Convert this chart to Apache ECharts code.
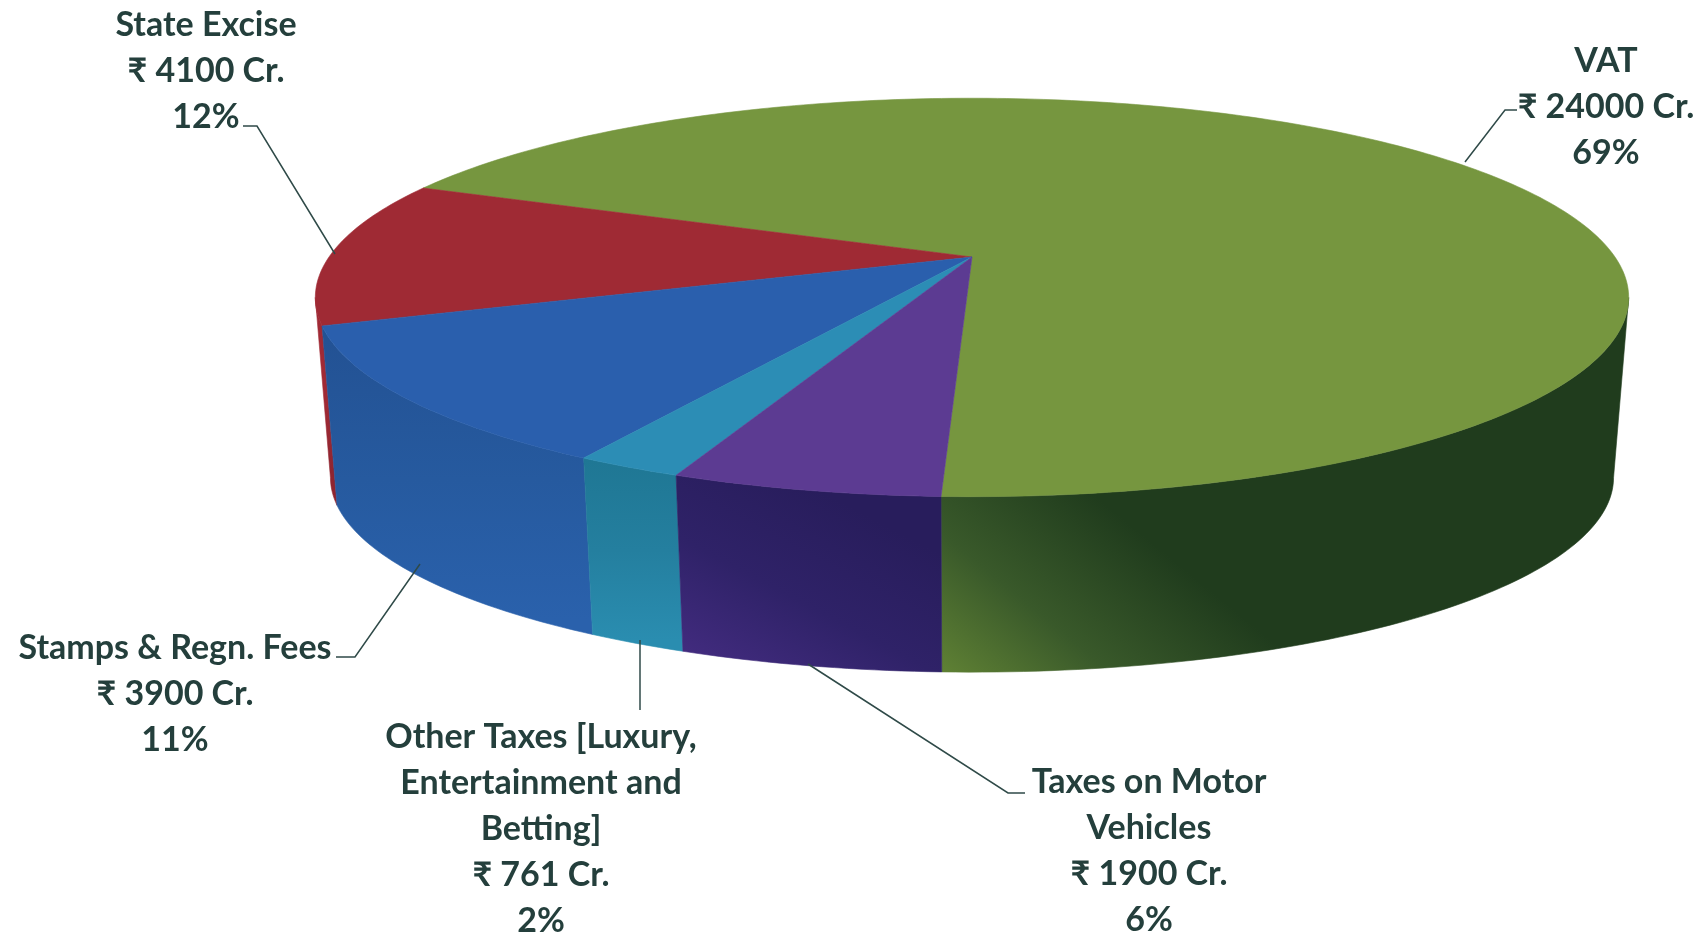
<!DOCTYPE html>
<html>
<head>
<meta charset="utf-8">
<title>Tax revenue</title>
<script src="https://cdn.jsdelivr.net/npm/echarts@6/dist/echarts.min.js"></script>
<style>
  html, body { margin: 0; padding: 0; background: #fff; }
  #chart { width: 1700px; height: 936px; }
</style>
</head>
<body>
<div id="chart"></div>
<script>
// data, clockwise from the VAT slice
const categories = ["VAT", "State Excise", "Stamps & Regn. Fees", "Other Taxes [Luxury,\nEntertainment and\nBetting]", "Taxes on Motor\nVehicles"];
const values = [24000, 4100, 3900, 761, 1900];
const percents = [69, 12, 11, 2, 6];

// styles
const topColors = ["#76963f", "#9f2a34", "#2a5fad", "#2c8db5", "#5c3b92"];
const wallFills = [
  { x: 940, y: 695, x2: 1100, y2: 500, stops: ["#668836", "#39592a", "#203c1d"] },
  { x: 0, y: 330, x2: 0, y2: 470, stops: ["#a02a35", "#a02a35", "#8f2530"] },
  { x: 0, y: 620, x2: 0, y2: 340, stops: ["#2a61ac", "#265a9f", "#235294"] },
  { x: 0, y: 640, x2: 0, y2: 460, stops: ["#2a8db0", "#247f9f", "#1f7794"] },
  { x: 700, y: 670, x2: 800, y2: 480, stops: ["#432c80", "#2f2268", "#281d5c"] },
];
const textColor = "#243f3c";
const leaderColor = "#2f4a48";

// label layout, one entry per slice
const labelCenters = [
  { x: 1606, y: 61 },
  { x: 206, y: 25 },
  { x: 175, y: 648 },
  { x: 541, y: 737 },
  { x: 1149, y: 782 },
];
const leaders = [
  [[1517, 110], [1505, 110], [1465, 162]],
  [[243, 126], [257, 126], [335, 254]],
  [[336, 657], [355, 657], [420, 564]],
  [[640, 640], [640, 710]],
  [[1025, 793], [1008, 793], [808, 664]],
];
const lineHeight = 46;

// the disc is a circle seen in perspective
const disc = { cx: 972, cy: 257, a: 643, b: 191, p: 0.203, start: 362.2 };
const base = { cy: 438, scale: 0.977 };
// the rim turns away from the viewer past this angle either side of the near point
const rimLimit = (Math.acos(disc.p) * 180) / Math.PI;

const total = values.reduce((sum, v) => sum + v, 0);

function project(deg, isBase) {
  const r = (deg * Math.PI) / 180;
  const u = -Math.sin(r);
  const v = Math.cos(r);
  const w = 1 - disc.p * v;
  const s = isBase ? base.scale : 1;
  const cy = isBase ? base.cy : disc.cy;
  return [disc.cx + (s * disc.a * u) / w, cy + (s * disc.b * v) / w];
}

function sliceRange(index) {
  let from = disc.start;
  for (let i = 0; i < index; i++) {
    from -= (values[i] / total) * 360;
  }
  return [from, from - (values[index] / total) * 360];
}

function arc(from, to, isBase) {
  const steps = Math.max(2, Math.ceil(Math.abs(from - to)));
  const points = [];
  for (let i = 0; i <= steps; i++) {
    points.push(project(from + ((to - from) * i) / steps, isBase));
  }
  return points;
}

// part of a slice's rim that faces the viewer, null for a slice at the back
function frontRange(index) {
  const [from, to] = sliceRange(index);
  for (const centre of [0, 360]) {
    const hi = Math.min(from, centre + rimLimit);
    const lo = Math.max(to, centre - rimLimit);
    if (hi > lo) {
      return [hi, lo];
    }
  }
  return null;
}

function wallFill(index) {
  const f = wallFills[index];
  return {
    type: "linear",
    global: true,
    x: f.x,
    y: f.y,
    x2: f.x2,
    y2: f.y2,
    colorStops: [
      { offset: 0, color: f.stops[0] },
      { offset: 0.5, color: f.stops[1] },
      { offset: 1, color: f.stops[2] },
    ],
  };
}

const seriesData = values.map((v) => [v]);
const myChart = echarts.init(document.getElementById("chart"), null, { renderer: "canvas" });

myChart.setOption({
  animation: false,
  backgroundColor: "#ffffff",
  series: [
    {
      // side walls
      type: "custom",
      coordinateSystem: "none",
      silent: true,
      data: seriesData,
      renderItem: (params) => {
        const i = params.dataIndex;
        const range = frontRange(i);
        const fill = wallFill(i);
        const points = arc(range[0], range[1], false).concat(arc(range[0], range[1], true).reverse());
        return {
          type: "polygon",
          shape: { points },
          style: { fill, stroke: fill, lineWidth: 0.6 },
        };
      },
    },
    {
      // top faces
      type: "custom",
      coordinateSystem: "none",
      silent: true,
      data: seriesData,
      renderItem: (params) => {
        const i = params.dataIndex;
        const [from, to] = sliceRange(i);
        const points = [[disc.cx, disc.cy]].concat(arc(from, to, false));
        return {
          type: "polygon",
          shape: { points },
          style: { fill: topColors[i], stroke: topColors[i], lineWidth: 0.6 },
        };
      },
    },
    {
      // labels and leader lines
      type: "custom",
      coordinateSystem: "none",
      silent: true,
      data: seriesData,
      renderItem: (params, api) => {
        const i = params.dataIndex;
        const lines = categories[i].split("\n").concat([`₹ ${api.value(0)} Cr.`, `${percents[i]}%`]);
        const children = lines.map((line, n) => ({
          type: "text",
          style: {
            text: line,
            x: labelCenters[i].x,
            y: labelCenters[i].y + n * lineHeight,
            align: "center",
            verticalAlign: "middle",
            fill: textColor,
            font: "bold 34px Lato, 'Noto Sans', sans-serif",
          },
        }));
        children.push({
          type: "polyline",
          shape: { points: leaders[i] },
          style: { fill: "none", stroke: leaderColor, lineWidth: 1.5 },
        });
        return { type: "group", children };
      },
    },
  ],
});
</script>
</body>
</html>
